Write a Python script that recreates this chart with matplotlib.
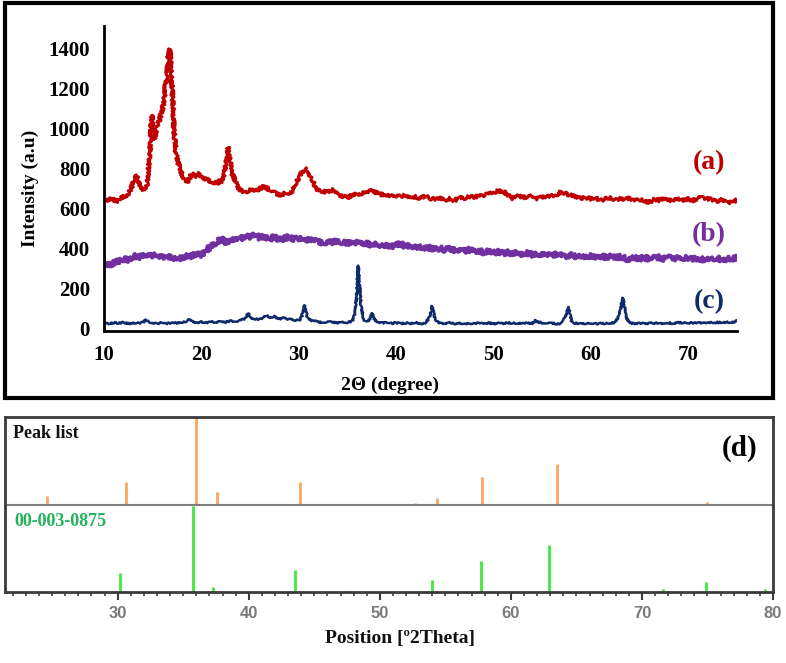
import matplotlib
matplotlib.use("Agg")
import matplotlib.pyplot as plt
from matplotlib.patches import Rectangle
from matplotlib.ticker import MultipleLocator

# ---------------- data ----------------
a_x = [10, 10.4, 10.8, 11.2, 11.6, 12, 12.4, 12.8, 13.1, 13.3, 13.5, 13.8, 14.1, 14.4, 14.7, 14.9,
       15.05, 15.2, 15.4, 15.6, 15.8, 16.0, 16.2, 16.4, 16.6, 16.75, 16.9, 17.05, 17.2, 17.4, 17.6,
       17.8, 18.0, 18.3, 18.6, 18.9, 19.2, 19.5, 19.8, 20.1, 20.4, 20.7, 21.0, 21.3, 21.6, 21.9,
       22.2, 22.5, 22.75, 22.95, 23.2, 23.5, 23.8, 24.1, 24.5, 25, 25.5, 26, 26.5, 27, 27.5, 28,
       28.5, 29, 29.4, 29.8, 30.2, 30.6, 30.9, 31.2, 31.6, 32, 32.5, 33, 33.5, 34, 34.5, 35, 35.5,
       36, 36.5, 37, 37.5, 38, 38.5, 39, 39.5, 40, 40.5, 41, 41.5, 42, 42.5, 43, 43.5, 44, 44.5,
       45, 45.5, 46, 46.5, 47, 47.5, 48, 48.5, 49, 49.5, 50, 50.5, 51, 51.5, 52, 52.5, 53, 53.5,
       54, 54.5, 55, 55.5, 56, 56.5, 57, 57.5, 58, 58.5, 59, 59.5, 60, 60.5, 61, 61.5, 62, 62.5,
       63, 63.5, 64, 64.5, 65, 65.5, 66, 66.5, 67, 67.5, 68, 68.5, 69, 69.5, 70, 70.5, 71, 71.5,
       72, 72.5, 73, 73.5, 74, 74.5, 75]
a_y = [648, 640, 655, 632, 650, 660, 668, 700, 740, 768, 745, 700, 690, 720, 860, 1065,
       1000, 945, 1010, 1030, 1060, 1095, 1150, 1260, 1360, 1395, 1310, 1150, 980, 880, 830,
       800, 770, 745, 730, 765, 770, 760, 775, 755, 745, 750, 728, 735, 718, 745,
       735, 820, 905, 860, 770, 735, 700, 690, 680, 695, 688, 700, 712, 690, 680, 668,
       675, 665, 690, 735, 770, 800, 790, 760, 720, 690, 685, 680, 695, 672, 660, 655, 668,
       672, 675, 680, 690, 680, 670, 668, 662, 665, 660, 668, 655, 658, 652, 662, 650, 648, 655,
       642, 650, 640, 655, 650, 660, 655, 668, 665, 675, 680, 688, 685, 668, 650, 662, 655, 660,
       662, 650, 658, 662, 665, 670, 685, 672, 668, 660, 650, 655, 648, 652, 640, 648, 655, 645,
       650, 645, 652, 640, 645, 638, 632, 645, 642, 648, 640, 645, 650, 642, 648, 640, 652, 655,
       650, 642, 638, 645, 630, 635, 642]

b_x = [10, 10.5, 11, 11.5, 12, 12.5, 13, 13.5, 14, 14.5, 15, 15.5, 16, 16.5, 17, 17.5, 18, 18.5,
       19, 19.5, 20, 20.5, 21, 21.5, 22, 22.5, 23, 23.5, 24, 24.5, 25, 25.5, 26, 26.5, 27, 27.5,
       28, 28.5, 29, 29.5, 30, 30.5, 31, 31.5, 32, 32.5, 33, 33.5, 34, 34.5, 35, 35.5, 36, 36.5,
       37, 37.5, 38, 38.5, 39, 39.5, 40, 40.5, 41, 41.5, 42, 42.5, 43, 43.5, 44, 44.5, 45, 45.5,
       46, 46.5, 47, 47.5, 48, 48.5, 49, 49.5, 50, 50.5, 51, 51.5, 52, 52.5, 53, 53.5, 54, 54.5,
       55, 55.5, 56, 56.5, 57, 57.5, 58, 58.5, 59, 59.5, 60, 60.5, 61, 61.5, 62, 62.5, 63, 63.5,
       64, 64.5, 65, 65.5, 66, 66.5, 67, 67.5, 68, 68.5, 69, 69.5, 70, 70.5, 71, 71.5, 72, 72.5,
       73, 73.5, 74, 74.5, 75]
b_y = [325, 318, 330, 338, 350, 345, 365, 358, 362, 372, 365, 370, 358, 362, 350, 358, 352, 370,
       362, 375, 368, 390, 415, 425, 450, 430, 435, 455, 450, 462, 458, 470, 455, 462, 450, 458,
       445, 452, 458, 448, 455, 440, 448, 435, 440, 428, 438, 432, 445, 428, 432, 425, 430, 420,
       428, 418, 425, 415, 420, 412, 418, 425, 410, 415, 405, 412, 400, 405, 398, 402, 395, 400,
       392, 398, 388, 395, 385, 390, 382, 388, 380, 385, 376, 382, 375, 380, 372, 378, 370, 375,
       368, 372, 366, 375, 368, 364, 370, 362, 368, 360, 366, 358, 364, 356, 362, 355, 360, 352,
       345, 358, 350, 356, 348, 354, 358, 350, 356, 348, 354, 350, 356, 348, 352, 346, 354, 348,
       352, 345, 350, 348, 355]

c_pts = [(10, 30), (10.5, 26), (11, 32), (11.5, 28), (12, 34), (12.5, 27), (13, 31), (13.5, 29),
         (14, 33), (14.3, 44), (14.6, 34), (15, 30), (15.5, 27), (16, 32), (16.5, 28), (17, 31),
         (17.5, 29), (18, 33), (18.5, 40), (18.8, 50), (19.1, 38), (19.5, 32), (20, 35), (20.5, 31),
         (21, 36), (21.5, 33), (22, 38), (22.5, 34), (23, 40), (23.5, 37), (24, 42), (24.5, 52),
         (24.8, 78), (25.1, 55), (25.5, 50), (26, 48), (26.4, 58), (26.7, 68), (27, 55), (27.5, 62),
         (28, 50), (28.5, 58), (29, 48), (29.5, 45), (30, 42), (30.3, 60), (30.6, 118), (30.9, 55),
         (31.3, 40), (32, 36), (32.5, 33), (33, 38), (33.5, 34), (34, 31), (34.5, 36), (35, 32),
         (35.5, 40), (35.8, 80), (36.1, 316), (36.4, 110), (36.7, 42), (37, 35), (37.3, 50),
         (37.55, 78), (37.8, 45), (38.2, 34), (38.6, 30), (39, 33), (39.5, 28), (40, 31), (40.5, 27),
         (41, 30), (41.5, 28), (42, 32), (42.5, 26), (43, 30), (43.4, 55), (43.7, 114), (44.0, 48),
         (44.4, 30), (45, 28), (45.5, 31), (46, 27), (46.5, 30), (47, 26), (47.5, 29), (48, 27),
         (48.5, 31), (49, 28), (49.5, 30), (50, 26), (50.5, 29), (51, 27), (51.5, 31), (52, 28),
         (52.5, 30), (53, 27), (53.5, 30), (54, 28), (54.3, 42), (54.6, 34), (55, 30), (55.5, 27),
         (56, 29), (56.5, 26), (57, 30), (57.4, 60), (57.7, 110), (58.0, 40), (58.4, 28), (59, 30),
         (59.5, 27), (60, 29), (60.5, 26), (61, 30), (61.5, 27), (62, 29), (62.5, 32), (62.9, 70),
         (63.3, 155), (63.6, 60), (64.0, 30), (64.5, 27), (65, 29), (65.5, 26), (66, 30), (66.5, 28),
         (67, 31), (67.5, 27), (68, 30), (68.5, 28), (69, 32), (69.5, 29), (70, 31), (70.5, 30),
         (71, 33), (71.5, 30), (72, 34), (72.5, 31), (73, 33), (73.5, 30), (74, 34), (74.5, 32),
         (75, 40)]
c_x = [p[0] for p in c_pts]
c_y = [p[1] for p in c_pts]

peak_pos = [24.6, 30.6, 36.0, 37.6, 43.9, 52.7, 54.4, 57.8, 63.5, 75.0]
peak_rel = [10, 26, 100, 14, 26, 2, 7, 31, 46, 3]

ref_pos = [30.2, 35.75, 37.3, 43.5, 47.4, 54.0, 57.7, 62.9, 71.6, 74.9, 79.4]
ref_rel = [22, 98, 6, 25, 1, 14, 35, 54, 4, 11, 3]

top_xticks = [10, 20, 30, 40, 50, 60, 70]
top_yticks = [0, 200, 400, 600, 800, 1000, 1200, 1400]

# ---------------- figure ----------------
W, H = 786, 663
fig = plt.figure(figsize=(W / 100, H / 100), dpi=100)

def fx(px):
    return px / W

def fy(py):
    return 1 - py / H

serif = "Liberation Serif"

# outer box for the top panel
fig.patches.append(Rectangle((fx(5), fy(398)), fx(773) - fx(5), fy(3) - fy(398),
                             transform=fig.transFigure, fill=False, lw=3, ec="black"))

ax = fig.add_axes([fx(104), fy(331), fx(737) - fx(104), fy(26) - fy(331)])
la, = ax.plot(a_x, a_y, color="#C00000", lw=2.2)
lb, = ax.plot(b_x, b_y, color="#7030A0", lw=3.0)
lc, = ax.plot(c_x, c_y, color="#0D2A6B", lw=1.8)
# rough, noisy-looking stroke like the measured scans
la.set_sketch_params(scale=1.6, length=1.5, randomness=3)
lb.set_sketch_params(scale=2.2, length=1.5, randomness=3)
lc.set_sketch_params(scale=0.8, length=1.5, randomness=3)
ax.set_xlim(10, 75)
ax.set_ylim(-10, 1510)
ax.set_xticks(top_xticks)
ax.set_yticks(top_yticks)
for s in ["top", "right"]:
    ax.spines[s].set_visible(False)
for s in ["left", "bottom"]:
    ax.spines[s].set_linewidth(2.0)
ax.tick_params(length=0, pad=10)
for lab in ax.get_xticklabels() + ax.get_yticklabels():
    lab.set_fontfamily(serif)
    lab.set_fontweight("bold")
    lab.set_fontsize(15)

fig.text(fx(390), fy(385), "2Θ (degree)", ha="center", va="center",
         family=serif, weight="bold", fontsize=14)
fig.text(fx(30), fy(188), "Intensity (a.u)", ha="center", va="center", rotation=90,
         family=serif, weight="bold", fontsize=14)

fig.text(fx(709), fy(163), "(a)", ha="center", va="center", family=serif, weight="bold",
         fontsize=20, color="#C00000")
fig.text(fx(709), fy(235), "(b)", ha="center", va="center", family=serif, weight="bold",
         fontsize=20, color="#7030A0")
fig.text(fx(709), fy(302), "(c)", ha="center", va="center", family=serif, weight="bold",
         fontsize=20, color="#0D2A6B")

# ---------------- bottom panel ----------------
bx = fig.add_axes([fx(5), fy(592), fx(773) - fx(5), fy(417) - fy(592)])
bx.set_xlim(21.4, 80)
bx.set_ylim(0, 200)
bx.vlines(peak_pos, 100, [100 + v for v in peak_rel], color="#F9A860", lw=2)
bx.vlines(ref_pos, 0, ref_rel, color="#3EE83E", lw=2)
bx.axhline(100, color="#7F7F7F", lw=1.5)
for s in bx.spines.values():
    s.set_linewidth(2.0)
    s.set_color("#3A3A3A")
bx.set_yticks([])
bx.xaxis.set_major_locator(MultipleLocator(10))
bx.xaxis.set_minor_locator(MultipleLocator(1))
bx.tick_params(axis="x", which="major", direction="out", length=6, width=1.5,
               color="#3A3A3A", labelcolor="#7A7A7A", labelsize=12, pad=4)
bx.tick_params(axis="x", which="minor", direction="out", length=3, width=1.2, color="#3A3A3A")
for lab in bx.get_xticklabels():
    lab.set_fontfamily("Liberation Sans")
    lab.set_fontweight("bold")

fig.text(fx(13), fy(434), "Peak list", ha="left", va="center", family=serif,
         weight="bold", fontsize=13, color="#111111")
fig.text(fx(14), fy(522), "00-003-0875", ha="left", va="center", family=serif,
         weight="bold", fontsize=13, color="#22B35A")
fig.text(fx(740), fy(448), "(d)", ha="center", va="center", family=serif,
         weight="bold", fontsize=21, color="black")
fig.text(fx(400), fy(638), "Position [º2Theta]", ha="center", va="center",
         family=serif, weight="bold", fontsize=14, color="#111111")

fig.savefig("out.png", dpi=100)
